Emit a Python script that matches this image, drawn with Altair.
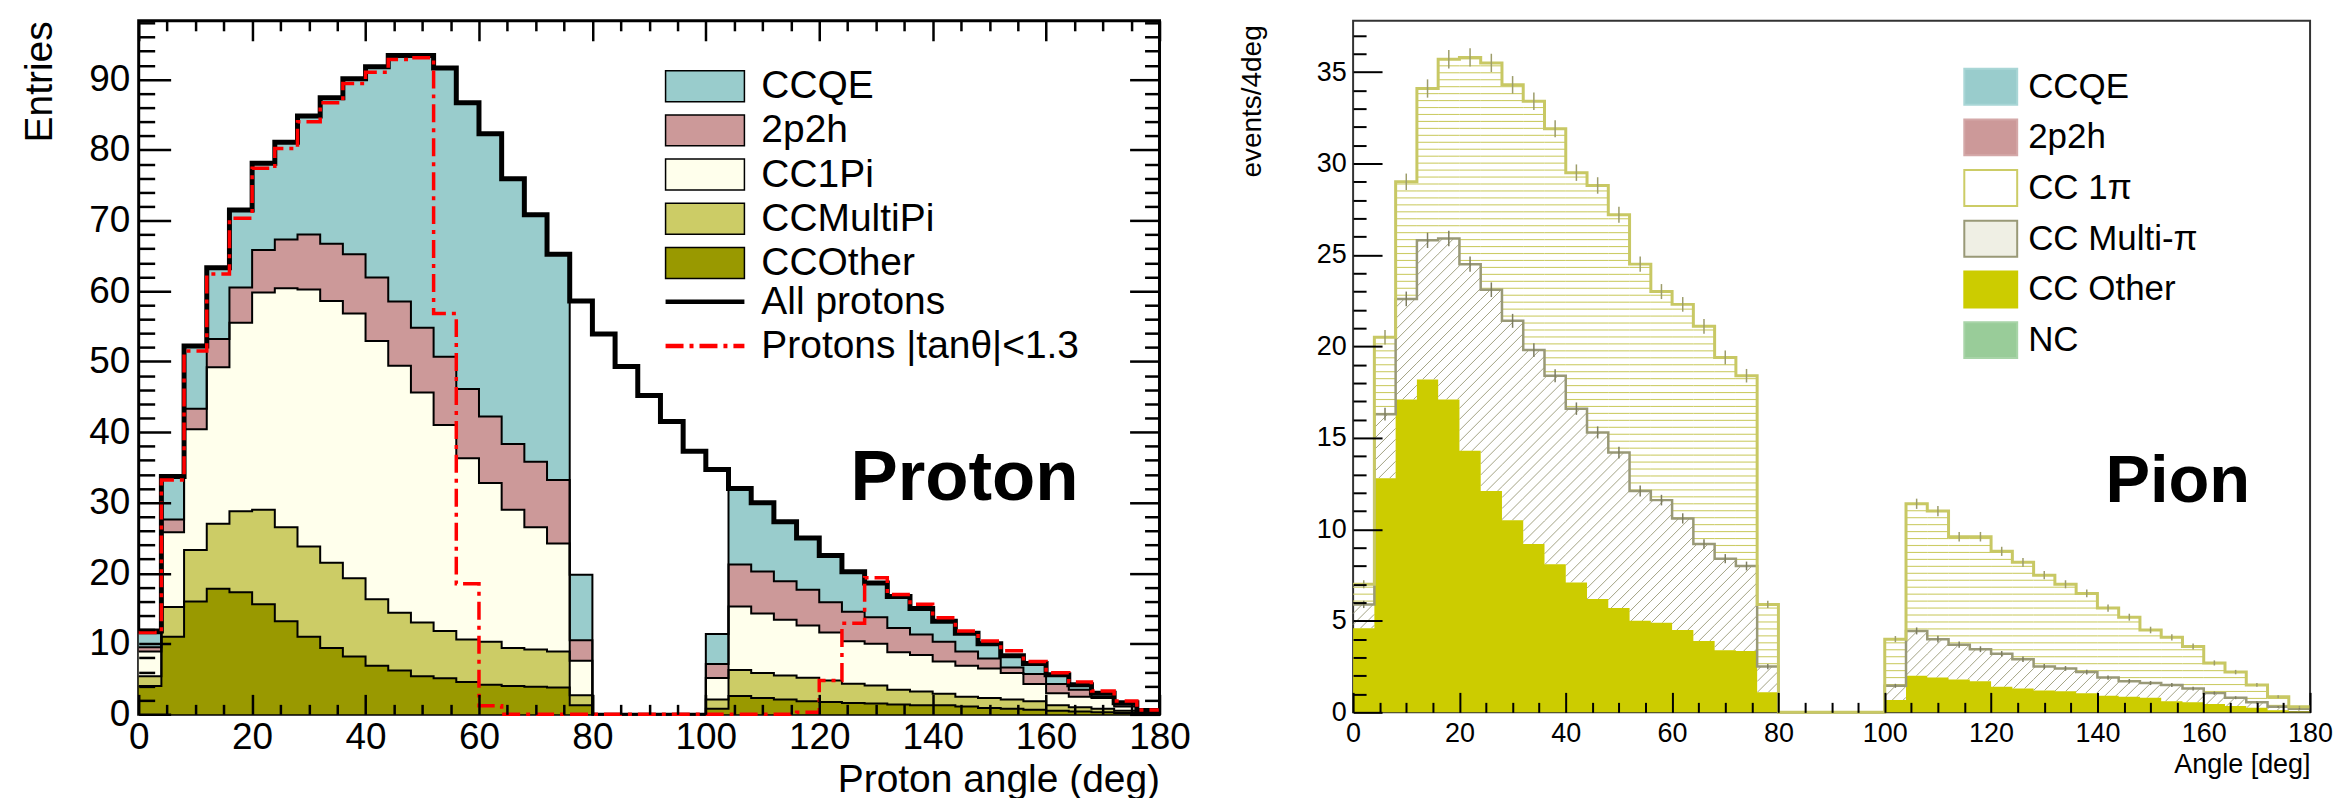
import math
import altair as alt
import pandas as pd

FONT = "Liberation Sans"
BIN_W = 4
NBINS = 45

# ---------------- axis tick values ----------------
X_MAJOR = [0, 20, 40, 60, 80, 100, 120, 140, 160, 180]
X_MINOR = [v for v in range(0, 181, 5) if v % 20]
L_Y_MAJOR = [0, 10, 20, 30, 40, 50, 60, 70, 80, 90]
L_Y_MINOR = [v for v in range(0, 99, 2) if v % 10]
R_Y_MAJOR = [0, 5, 10, 15, 20, 25, 30, 35]
R_Y_MINOR = [v for v in range(0, 38) if v % 5]

# ---------------- left panel (Proton) : cumulative stack tops per 4-deg bin ----------------
L_CATS = ["CCOther", "CCMultiPi", "CC1Pi", "2p2h", "CCQE"]          # bottom -> top
L_LEGEND_ORDER = ["CCQE", "2p2h", "CC1Pi", "CCMultiPi", "CCOther"]
L_COLORS = {"CCQE": "#99cccc", "2p2h": "#cc9999", "CC1Pi": "#ffffec",
            "CCMultiPi": "#cccc66", "CCOther": "#999900"}

L_CCOTHER_TOP = [4.0, 11.0, 16.0, 17.8, 17.3, 15.6, 13.2, 11.0, 9.4, 8.2,
                 6.9, 6.2, 5.4, 5.1, 4.6, 4.2, 4.0, 3.9, 3.8, 1.3,
                 0, 0, 0, 0, 0,
                 0.8, 2.6, 2.3, 2.1, 1.85, 1.75, 1.6, 1.55, 1.4, 1.3,
                 1.3, 1.1, 0.9, 0.8, 0.65, 0.5, 0.4, 0.3, 0.2, 0.1]
L_MULTI_TOP = [5.4, 15.2, 23.3, 27.0, 28.8, 29.0, 26.5, 23.8, 21.5, 19.3,
               16.3, 14.4, 13.0, 11.8, 10.6, 10.3, 9.4, 9.2, 8.9, 2.7,
               0, 0, 0, 0, 0,
               2.1, 6.3, 5.85, 5.5, 5.2, 4.8, 4.35, 4.1, 3.5, 3.25,
               2.9, 2.5, 2.3, 2.1, 1.85, 1.3, 1.0, 0.8, 0.5, 0.2]
L_1PI_TOP = [8.9, 25.8, 40.4, 49.2, 55.5, 59.8, 60.4, 60.2, 58.6, 56.8,
             52.9, 49.4, 45.6, 41.0, 36.3, 32.8, 29.0, 26.5, 24.2, 7.6,
             0, 0, 0, 0, 0,
             5.15, 15.3, 14.3, 13.4, 12.6, 11.6, 10.35, 10.0, 8.8, 8.4,
             7.5, 6.9, 6.5, 5.85, 4.3, 3.0, 2.5, 2.3, 1.1, 0.4]
L_2P2H_TOP = [9.5, 27.6, 43.3, 53.2, 60.5, 65.8, 67.3, 68.0, 66.7, 65.2,
              61.9, 58.5, 54.8, 50.7, 46.1, 42.2, 38.3, 35.8, 33.2, 10.5,
              0, 0, 0, 0, 0,
              7.15, 21.25, 20.25, 18.85, 17.65, 15.9, 14.55, 13.75, 12.25, 11.3,
              10.3, 8.9, 7.9, 6.65, 5.7, 4.3, 3.5, 2.5, 1.4, 0.5]
L_CCQE_TOP = [11.5, 33.7, 52.2, 63.3, 71.5, 78.1, 81.1, 84.8, 87.4, 90.1,
              91.8, 93.4, 93.4, 91.6, 86.7, 82.3, 75.9, 70.8, 65.2, 19.8,
              0, 0, 0, 0, 0,
              11.4, 32.0, 30.0, 27.3, 25.0, 22.5, 20.2, 18.6, 16.7, 15.0,
              13.2, 11.5, 10.0, 8.3, 7.2, 5.6, 4.2, 3.0, 1.6, 0.55]
L_TOPS = [L_CCOTHER_TOP, L_MULTI_TOP, L_1PI_TOP, L_2P2H_TOP, L_CCQE_TOP]

ALL_PROTONS = [11.8, 33.7, 52.2, 63.3, 71.5, 78.1, 81.1, 84.8, 87.4, 90.1,
               91.8, 93.4, 93.4, 91.6, 86.7, 82.3, 75.9, 70.8, 65.2, 58.6,
               53.9, 49.3, 45.2, 41.5, 37.3, 34.7, 32.0, 30.0, 27.3, 25.0,
               22.5, 20.2, 18.6, 16.7, 15.0, 13.2, 11.5, 10.0, 8.3, 7.2,
               5.6, 4.2, 3.0, 1.65, 0.55]
PROTONS_TAN = [11.6, 33.2, 51.5, 62.4, 70.3, 77.4, 80.2, 84.0, 86.7, 89.4,
               91.0, 92.8, 93.05, 56.8, 18.5, 1.2, 0, 0, 0, 0,
               0, 0, 0, 0, 0, 0, 0, 0, 0, 0.3,
               4.8, 12.9, 19.35, 17.0, 15.6, 13.7, 11.8, 10.4, 9.0, 7.5,
               5.9, 4.6, 3.3, 1.9, 0.6]
LINE_SERIES = ["All protons", "Protons |tan\u03b8|<1.3"]

# ---------------- right panel (Pion) : cumulative stack tops ----------------
R_CATS = ["CCQE", "2p2h", "CC 1\u03c0", "CC Multi-\u03c0", "CC Other", "NC"]
R_FILL = ["#99cccc", "#cc9999", "#ffffff", "#efefe4", "#cccc00", "#99cc99"]
R_STROKE = ["#a9d6d6", "#d4a8a8", "#cccc66", "#999977", "#cccc00", "#a8d4a8"]

R_OTHER_TOP = [4.6, 12.8, 17.1, 18.2, 17.1, 14.3, 12.1, 10.5, 9.2, 8.1,
               7.1, 6.2, 5.7, 5.0, 4.9, 4.5, 3.9, 3.4, 3.35, 1.1,
               0, 0, 0, 0, 0,
               0.67, 2.0, 1.9, 1.8, 1.7, 1.4, 1.3, 1.2, 1.15, 1.05,
               0.9, 0.85, 0.8, 0.6, 0.55, 0.45, 0.35, 0.25, 0.12, 0.05]
R_MULTI_TOP = [5.9, 16.3, 22.6, 25.8, 25.9, 24.5, 23.1, 21.4, 19.8, 18.4,
               16.6, 15.3, 14.2, 12.1, 11.6, 10.6, 9.2, 8.4, 8.0, 2.5,
               0, 0, 0, 0, 0,
               1.45, 4.45, 4.0, 3.7, 3.45, 3.2, 2.9, 2.5, 2.4, 2.2,
               1.9, 1.7, 1.6, 1.5, 1.3, 1.05, 0.8, 0.55, 0.3, 0.2]
R_1PI_TOP = [7.0, 20.5, 29.0, 34.1, 35.7, 35.8, 35.5, 34.3, 33.4, 31.9,
             29.5, 28.8, 27.2, 24.5, 23.0, 22.3, 21.1, 19.4, 18.4, 5.9,
             0, 0, 0, 0, 0,
             4.0, 11.4, 11.0, 9.6, 9.6, 8.8, 8.2, 7.5, 7.0, 6.5,
             5.7, 5.2, 4.5, 4.1, 3.6, 2.7, 2.2, 1.5, 0.85, 0.3]
R_ERR_TOTAL = [0.22, 0.4, 0.45, 0.5, 0.5, 0.5, 0.5, 0.48, 0.48, 0.47,
               0.45, 0.45, 0.44, 0.42, 0.41, 0.4, 0.4, 0.38, 0.37, 0.2,
               0, 0, 0, 0, 0,
               0.17, 0.28, 0.28, 0.26, 0.26, 0.25, 0.24, 0.23, 0.22, 0.21,
               0.2, 0.19, 0.18, 0.17, 0.16, 0.14, 0.12, 0.1, 0.08, 0.05]
R_ERR_MULTI = [0.2, 0.35, 0.4, 0.42, 0.42, 0.42, 0.4, 0.38, 0.37, 0.35,
               0.34, 0.33, 0.32, 0.3, 0.29, 0.28, 0.26, 0.25, 0.24, 0.14,
               0, 0, 0, 0, 0,
               0.11, 0.19, 0.18, 0.17, 0.16, 0.15, 0.15, 0.14, 0.13, 0.13,
               0.12, 0.12, 0.11, 0.11, 0.1, 0.09, 0.08, 0.07, 0.05, 0.04]

ANNOT_L = [{"label": "Proton", "angle": 125.5, "value": 30.4}]
ANNOT_R = [{"label": "Pion", "angle": 141.5, "value": 11.5}]

# ---------------- geometry ----------------
W1, H1 = 1023, 695
W2, H2 = 959, 693
YMAX_L = 98.3
YMAX_R = 37.8


def steps(vals):
    xs = [i * BIN_W for i in range(NBINS)] + [NBINS * BIN_W]
    return xs, list(vals) + [vals[-1]]


# left stacked table
rows = []
lower = [0.0] * NBINS
for cat, top in zip(L_CATS, L_TOPS):
    xs, his = steps(top)
    _, los = steps(lower)
    for x, h, l in zip(xs, his, los):
        rows.append({"x": x, "hi": h, "lo": l, "cat": cat})
    lower = top
df_left = pd.DataFrame(rows)

rows = []
for name, vals in zip(LINE_SERIES, [ALL_PROTONS, PROTONS_TAN]):
    xs, vs = steps(vals)
    for x, v in zip(xs, vs):
        rows.append({"x": x, "hi": v, "series": name})
df_lines = pd.DataFrame(rows)

# right tables
rows = []
for name, vals in [("other", R_OTHER_TOP), ("multi", R_MULTI_TOP), ("total", R_1PI_TOP)]:
    xs, vs = steps(vals)
    for x, v in zip(xs, vs):
        rows.append({"x": x, "hi": v, "layer": name})
df_right = pd.DataFrame(rows)

# hatch decorations (pattern texture, positioned from the data boundaries)
sx = W2 / 180.0
sy = H2 / YMAX_R
DY = 0.38
hh = []
for i in range(NBINS):
    lo, hi = R_MULTI_TOP[i], R_1PI_TOP[i]
    k = math.floor(lo / DY) + 1
    while k * DY < hi:
        hh.append({"x": i * BIN_W, "x2": (i + 1) * BIN_W, "hi": k * DY})
        k += 1
df_hh = pd.DataFrame(hh)

SP = 11.0
dh = []
for i in range(NBINS):
    v0, v1 = R_OTHER_TOP[i], R_MULTI_TOP[i]
    if v1 <= v0:
        continue
    X0, X1 = i * BIN_W * sx, (i + 1) * BIN_W * sx
    Y0, Y1 = v0 * sy, v1 * sy
    for k in range(math.ceil((Y0 - X1) / SP), math.floor((Y1 - X0) / SP) + 1):
        c = k * SP
        Xa = max(X0, Y0 - c)
        Xb = min(X1, Y1 - c)
        if Xb - Xa > 0.3:
            dh.append({"x": Xa / sx, "hi": (Xa + c) / sy, "x2": Xb / sx, "y2": (Xb + c) / sy})
df_dh = pd.DataFrame(dh)

err = []
for i in range(NBINS):
    c = i * BIN_W + BIN_W / 2
    if R_ERR_TOTAL[i] > 0:
        err.append({"x": c, "lo": R_1PI_TOP[i] - R_ERR_TOTAL[i], "hi": R_1PI_TOP[i] + R_ERR_TOTAL[i], "which": "total"})
    if R_ERR_MULTI[i] > 0:
        err.append({"x": c, "lo": R_MULTI_TOP[i] - R_ERR_MULTI[i], "hi": R_MULTI_TOP[i] + R_ERR_MULTI[i], "which": "multi"})
df_err = pd.DataFrame(err)

dummy = pd.DataFrame({"x": [0.0], "hi": [0.0], "cat_r": ["CCQE"]})

XS_L = alt.Scale(domain=[0, 180], nice=False, zero=False)
YS_L = alt.Scale(domain=[0, YMAX_L], nice=False, zero=False)
XS_R = alt.Scale(domain=[0, 180], nice=False, zero=False)
YS_R = alt.Scale(domain=[0, YMAX_R], nice=False, zero=False)


def tax(orient, offset, values, size, width):
    return alt.Axis(orient=orient, offset=offset, values=values, tickSize=size,
                    tickWidth=width, tickColor="black", labels=False, domain=False,
                    grid=False, title=None, zindex=2, ticks=True)


def tick_layer(xs, ys, xa, ya):
    return alt.Chart(dummy).transform_filter("false").mark_point().encode(
        x=alt.X("x:Q", scale=xs, axis=xa),
        y=alt.Y("hi:Q", scale=ys, axis=ya),
    )


X_NO = lambda s: alt.X("x:Q", scale=s, axis=None)

# ---------------- left panel ----------------
x_lab_l = alt.Axis(values=X_MAJOR, ticks=False, domain=False, grid=False,
                   labelFont=FONT, labelFontSize=37, labelColor="black", labelPadding=5,
                   labelFlush=False, labelOverlap=False,
                   title="Proton angle (deg)", titleFont=FONT, titleFontSize=39,
                   titleFontWeight="normal", titleColor="black", titleX=W1, titleY=77,
                   titleAlign="right", titleAnchor="end", titleBaseline="alphabetic")
y_lab_l = alt.Axis(values=L_Y_MAJOR, ticks=False, domain=False, grid=False,
                   labelFont=FONT, labelFontSize=37, labelColor="black", labelPadding=9,
                   labelOverlap=False,
                   title="Entries", titleFont=FONT, titleFontSize=39, titleFontWeight="normal",
                   titleColor="black", titleX=-87, titleY=0, titleAngle=270,
                   titleAlign="right", titleAnchor="end", titleBaseline="alphabetic")

# legend symbols: size kept below the label height so rows stay compact;
# the path itself is wider than the unit box to give 79x31 px boxes
fill_legend_l = alt.Legend(title=None, orient="none", legendX=548, legendY=46,
                           symbolType="M-2.324,-0.912L2.324,-0.912L2.324,0.912L-2.324,0.912Z",
                           symbolSize=1156, symbolStrokeColor="black", symbolStrokeWidth=1.5,
                           symbolOpacity=1, labelFont=FONT, labelFontSize=39, labelColor="black",
                           labelOffset=37, rowPadding=4.3, padding=0, labelLimit=600)
line_legend_l = alt.Legend(title=None, orient="none", legendX=548, legendY=262,
                           symbolType="M-2.324,0L2.324,0", symbolSize=1156, symbolStrokeWidth=4.5,
                           symbolOpacity=1, labelFont=FONT, labelFontSize=39, labelColor="black",
                           labelOffset=37, rowPadding=4.3, padding=0, labelLimit=600)

areas_l = alt.Chart(df_left).mark_area(interpolate="step-after").encode(
    x=alt.X("x:Q", scale=XS_L, axis=x_lab_l),
    y=alt.Y("hi:Q", scale=YS_L, axis=y_lab_l, stack=None),
    y2="lo:Q",
    fill=alt.Fill("cat:N", scale=alt.Scale(domain=L_LEGEND_ORDER,
                                           range=[L_COLORS[c] for c in L_LEGEND_ORDER]),
                  legend=fill_legend_l),
)
outl_l = alt.Chart(df_left).mark_line(interpolate="step-after", color="black", strokeWidth=2).encode(
    x=X_NO(XS_L), y=alt.Y("hi:Q", scale=YS_L, axis=None), detail="cat:N")

stroke_enc = alt.Stroke("series:N", scale=alt.Scale(domain=LINE_SERIES, range=["black", "red"]),
                        legend=line_legend_l)
dash_enc = alt.StrokeDash("series:N", scale=alt.Scale(domain=LINE_SERIES, range=[[1, 0], [18, 6, 4, 6]]),
                          legend=line_legend_l)
all_l = alt.Chart(df_lines).transform_filter(alt.datum.series == LINE_SERIES[0]).mark_line(
    interpolate="step-after", strokeWidth=5).encode(
    x=X_NO(XS_L), y=alt.Y("hi:Q", scale=YS_L, axis=None), stroke=stroke_enc, strokeDash=dash_enc)
tan_l = alt.Chart(df_lines).transform_filter(alt.datum.series == LINE_SERIES[1]).mark_line(
    interpolate="step-after", strokeWidth=3.5).encode(
    x=X_NO(XS_L), y=alt.Y("hi:Q", scale=YS_L, axis=None), stroke=stroke_enc, strokeDash=dash_enc)
text_l = alt.Chart(pd.DataFrame(ANNOT_L)).mark_text(
    font=FONT, fontSize=71, fontWeight="bold", align="left", baseline="alphabetic", color="black").encode(
    x=alt.X("angle:Q", scale=XS_L, axis=None), y=alt.Y("value:Q", scale=YS_L, axis=None), text="label:N")

left = alt.layer(
    areas_l, outl_l, all_l, tan_l, text_l,
    tick_layer(XS_L, YS_L, tax("top", -H1, X_MAJOR, 20, 2.5), tax("right", -W1, L_Y_MAJOR, 32, 2.5)),
    tick_layer(XS_L, YS_L, tax("top", -H1, X_MINOR, 10, 2.5), tax("right", -W1, L_Y_MINOR, 16, 2.5)),
    tick_layer(XS_L, YS_L, tax("bottom", -H1, X_MAJOR, 20, 2.5), tax("left", -W1, L_Y_MAJOR, 30, 2.5)),
    tick_layer(XS_L, YS_L, tax("bottom", -H1, X_MINOR, 10, 2.5), tax("left", -W1, L_Y_MINOR, 15, 2.5)),
).resolve_axis(x="independent", y="independent").properties(
    width=W1, height=H1, view=alt.ViewBackground(stroke="black", strokeWidth=3))

# ---------------- right panel ----------------
x_lab_r = alt.Axis(values=X_MAJOR, ticks=False, domain=False, grid=False,
                   labelFont=FONT, labelFontSize=27, labelColor="black", labelPadding=8,
                   labelFlush=False, labelOverlap=False,
                   title="Angle [deg]", titleFont=FONT, titleFontSize=27, titleFontWeight="normal",
                   titleColor="black", titleX=W2, titleY=60, titleAlign="right",
                   titleAnchor="end", titleBaseline="alphabetic")
y_lab_r = alt.Axis(values=R_Y_MAJOR, ticks=False, domain=False, grid=False,
                   labelFont=FONT, labelFontSize=27, labelColor="black", labelPadding=7,
                   labelOverlap=False,
                   title="events/4deg", titleFont=FONT, titleFontSize=28, titleFontWeight="normal",
                   titleColor="black", titleX=-93, titleY=4, titleAngle=270,
                   titleAlign="right", titleAnchor="end", titleBaseline="alphabetic")

hh_r = alt.Chart(df_hh).mark_rule(color="#cccc66", strokeWidth=1.1).encode(
    x=X_NO(XS_R), x2="x2:Q", y=alt.Y("hi:Q", scale=YS_R, axis=None))
dh_r = alt.Chart(df_dh).mark_rule(color="#a3a384", strokeWidth=1).encode(
    x=X_NO(XS_R), x2="x2:Q", y=alt.Y("hi:Q", scale=YS_R, axis=None), y2="y2:Q")
other_r = alt.Chart(df_right).transform_filter(alt.datum.layer == "other").mark_area(
    interpolate="step-after", color="#cccc00").encode(
    x=alt.X("x:Q", scale=XS_R, axis=x_lab_r),
    y=alt.Y("hi:Q", scale=YS_R, axis=y_lab_r, stack=None))
multi_r = alt.Chart(df_right).transform_filter(alt.datum.layer == "multi").mark_line(
    interpolate="step-after", color="#999977", strokeWidth=2.5).encode(
    x=X_NO(XS_R), y=alt.Y("hi:Q", scale=YS_R, axis=None))
total_r = alt.Chart(df_right).transform_filter(alt.datum.layer == "total").mark_line(
    interpolate="step-after", color="#c8c864", strokeWidth=3).encode(
    x=X_NO(XS_R), y=alt.Y("hi:Q", scale=YS_R, axis=None))
err_r = alt.Chart(df_err).mark_rule(strokeWidth=1.5).encode(
    x=X_NO(XS_R), y=alt.Y("lo:Q", scale=YS_R, axis=None), y2="hi:Q",
    color=alt.Color("which:N", scale=alt.Scale(domain=["total", "multi"], range=["#9d9d6a", "#7d7d60"]),
                    legend=None))
text_r = alt.Chart(pd.DataFrame(ANNOT_R)).mark_text(
    font=FONT, fontSize=67, fontWeight="bold", align="left", baseline="alphabetic", color="black").encode(
    x=alt.X("angle:Q", scale=XS_R, axis=None), y=alt.Y("value:Q", scale=YS_R, axis=None), text="label:N")

leg_r = alt.Legend(title=None, orient="none", legendX=621, legendY=48,
                   symbolType="M-1.559,-1.059L1.559,-1.059L1.559,1.059L-1.559,1.059Z", symbolSize=1156,
                   symbolStrokeWidth=2, symbolOpacity=1, labelFont=FONT, labelFontSize=35,
                   labelColor="black", labelOffset=19.5, rowPadding=4.8, padding=0, labelLimit=600)
legend_r = alt.Chart(dummy).transform_filter("false").mark_point(filled=True).encode(
    x=X_NO(XS_R), y=alt.Y("hi:Q", scale=YS_R, axis=None),
    fill=alt.Fill("cat_r:N", scale=alt.Scale(domain=R_CATS, range=R_FILL), legend=leg_r),
    stroke=alt.Stroke("cat_r:N", scale=alt.Scale(domain=R_CATS, range=R_STROKE), legend=leg_r),
)

right = alt.layer(
    hh_r, dh_r, other_r, multi_r, total_r, err_r, text_r, legend_r,
    tick_layer(XS_R, YS_R, tax("top", -H2, X_MAJOR, 20, 2), tax("right", -W2, R_Y_MAJOR, 29, 2)),
    tick_layer(XS_R, YS_R, tax("top", -H2, X_MINOR, 10, 2), tax("right", -W2, R_Y_MINOR, 13, 2)),
).resolve_axis(x="independent", y="independent").properties(
    width=W2, height=H2, view=alt.ViewBackground(stroke="#333333", strokeWidth=2))

chart = alt.hconcat(left, right, spacing=194, bounds="flush").resolve_scale(
    fill="independent", stroke="independent", strokeDash="independent", color="independent"
).properties(
    padding={"left": 19, "top": 17, "right": 5, "bottom": 2}, background="white"
)

chart.save("out.html", embed_options={"renderer": "svg", "actions": False})
